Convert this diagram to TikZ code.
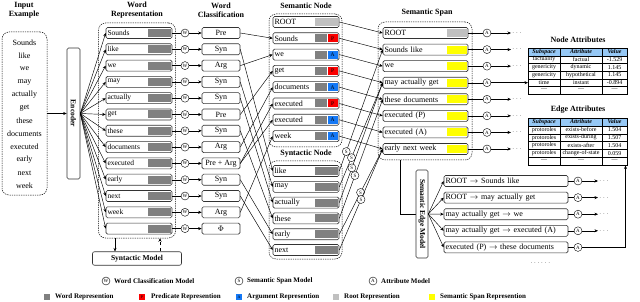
\documentclass[tikz,border=0pt]{standalone}
\usepackage{fontspec}
\setmainfont{Liberation Serif}
\usepackage{amsmath}
\usepackage{xcolor}
\usepackage{tikz}
\usetikzlibrary{positioning,arrows.meta,calc}

\definecolor{repgray}{RGB}{128,128,128}
\definecolor{rootgray}{RGB}{192,192,192}
\definecolor{predred}{RGB}{250,0,0}
\definecolor{argblue}{RGB}{20,120,245}
\definecolor{spanyellow}{RGB}{255,255,0}
\definecolor{headblue}{RGB}{150,200,245}

\begin{document}
\begin{tikzpicture}[x=1pt,y=-1pt,
  font=\fontsize{8}{9}\selectfont,
  arr/.style={-{Stealth[length=3.5pt,width=3pt]},line width=0.45pt},
  grp/.style={draw,dash pattern=on 1.3pt off 1pt,rounded corners=7pt,line width=0.5pt},
  ttl/.style={font=\fontsize{8}{9}\selectfont\bfseries,align=center},
  wordrow/.style={draw=black!80,line width=0.6pt,rounded corners=1.5pt,minimum height=11pt,inner sep=1.5pt,text width=#1,align=left},
  tagbox/.style={draw=black!80,line width=0.6pt,rounded corners=1.5pt,minimum height=11pt,minimum width=38pt,inner sep=1pt},
  repbox/.style={fill=repgray,minimum height=8pt,minimum width=#1,inner sep=0pt},
  mcirc/.style={circle,draw,fill=white,line width=0.4pt,inner sep=0pt,minimum size=8pt,font=\fontsize{5}{5}\selectfont},
  dots/.style={inner sep=1pt,font=\fontsize{6}{6}\selectfont},
  cell/.style={inner sep=0pt,font=\fontsize{6}{6}\selectfont},
  legtext/.style={anchor=west,inner sep=0pt,font=\fontsize{7}{8}\selectfont\bfseries}]
\useasboundingbox (0,0) rectangle (640,302);

% input example
\node[ttl] (intitle) at (24,10) {Input\\Example};
\node[grp,minimum width=45pt,minimum height=163pt] (ing) at (24.5,113.5) {};
\foreach \w [count=\i from 0] in {Sounds,like,we,may,actually,get,these,documents,executed,early,next,week}
  \node (in\i) at (24.5,{43+13*\i}) {\w};
\node[draw=black!80,line width=0.6pt,rounded corners=1.5pt,rotate=-90,minimum width=131pt,minimum height=13pt,inner sep=0pt,font=\fontsize{7.5}{8}\selectfont\bfseries] (enc) at (73.5,113.5) {Encoder};
\draw[arr] (ing.east) -- (enc.south);

% word representation + word classification
\node[ttl] (wrtitle) at (137,10) {Word\\Representation};
\node[ttl] (wctitle) at (221,10) {Word\\Classification};
\node[grp,minimum width=77pt,minimum height=215pt] (wrg) at (137,130.5) {};
\foreach \w/\c [count=\i from 0] in {Sounds/Pre,like/Syn,we/Arg,may/Syn,actually/Syn,get/Pre,these/Syn,documents/Arg,executed/Pre + Arg,early/Syn,next/Syn,week/Arg,{}/$\Phi$} {
  \node[wordrow=63pt,font=\fontsize{7.5}{8}\selectfont] (wr\i) at (139,{33+16.3*\i}) {\w};
  \node[repbox=23pt,anchor=east,xshift=-1.5pt] at (wr\i.east) {};
  \node[mcirc] (wm\i) at (185,{33+16.3*\i}) {W};
  \node[tagbox] (wc\i) at (221,{33+16.3*\i}) {\c};
  \draw[arr] (enc.north) -- (wr\i.west);
  \draw (wr\i.east) -- (wm\i);
  \draw[arr] (wm\i) -- (wc\i.west);
}
\node[draw=black!80,line width=0.6pt,rounded corners=2pt,minimum width=89pt,minimum height=13pt,font=\fontsize{7.5}{8}\selectfont\bfseries] (synm) at (137,258.5) {Syntactic Model};
\draw[arr] ([xshift=-22pt]wrg.south) -- ([xshift=-22pt]synm.north);
\draw[arr,dashed] ([xshift=23pt]synm.north) -- ([xshift=23pt]wrg.south);

% semantic node
\node[ttl] (sntitle) at (306,6) {Semantic Node};
\node[grp,minimum width=73pt,minimum height=133pt] (sng) at (305.5,80.5) {};
\node[wordrow=63pt] (sn0) at (306,22) {ROOT};
\node[repbox=23pt,fill=rootgray,anchor=east,xshift=-1.5pt] at (sn0.east) {};
\foreach \w/\t/\c [count=\i] in {Sounds/P/predred,we/A/argblue,get/P/predred,documents/A/argblue,executed/P/predred,executed/A/argblue,week/A/argblue} {
  \node[wordrow=63pt] (sn\i) at (306,{22+16.3*\i}) {\w};
  \node[repbox=10pt,fill=\c,anchor=east,xshift=-1.5pt,font=\fontsize{5.5}{5.5}\selectfont] (snt\i) at (sn\i.east) {\t};
  \node[repbox=12pt,anchor=east] at (snt\i.west) {};
}

% syntactic node
\node[ttl] (sytitle) at (306,154) {Syntactic Node};
\node[grp,minimum width=73pt,minimum height=98pt] (syg) at (305.5,210) {};
\foreach \w [count=\i] in {like,may,actually,these,early,next} {
  \node[wordrow=63pt] (sy\i) at (306,{171+15.8*(\i-1)}) {\w};
  \node[repbox=23pt,anchor=east,xshift=-1.5pt] at (sy\i.east) {};
}

% classification -> nodes
\foreach \a/\b in {0/1,2/2,5/3,7/4,8/5,8/6,11/7}
  \draw[arr] (wc\a.east) -- (sn\b.west);
\foreach \a/\b in {1/1,3/2,4/3,6/4,9/5,10/6}
  \draw[arr] (wc\a.east) -- (sy\b.west);

% semantic span
\node[ttl] (sptitle) at (427,13) {Semantic Span};
\node[grp,minimum width=94pt,minimum height=138pt] (spg) at (425,91) {};
\foreach \w [count=\i from 0] in {ROOT,Sounds like,we,may actually get,these documents,executed (P),executed (A),early next week} {
  \node[wordrow=82pt] (sp\i) at (425.5,{33+16.57*\i}) {\w};
  \node[repbox=20pt,fill=spanyellow,anchor=east,xshift=-1.5pt] (spy\i) at (sp\i.east) {};
  \node[mcirc] (spa\i) at (487,{33+16.57*\i}) {A};
  \draw (sp\i.east) -- (spa\i);
  \draw[arr] (sn\i.east) -- (sp\i.west);
}
\node[repbox=20pt,fill=rootgray,anchor=east,xshift=-1.5pt] at (sp0.east) {};
\foreach \i in {0,1,2,4,5,6,7} {
  \node[dots,anchor=west] (spd\i) at (511,{33+16.57*\i}) {$\cdots$};
  \draw[arr] (spa\i) -- (spd\i.west);
}
\draw[arr] (sy1.east) -- node[mcirc,pos=.16] {S} (sp1.west);
\draw[arr] (sy2.east) -- node[mcirc,pos=.28] {S} (sp3.west);
\draw[arr] (sy3.east) -- node[mcirc,pos=.29] {S} (sp3.west);
\draw[arr] (sy4.east) -- node[mcirc,pos=.36] {S} (sp4.west);
\draw[arr] (sy5.east) -- node[mcirc,pos=.49] {S} (sp7.west);
\draw[arr] (sy6.east) -- node[mcirc,pos=.5] {S} (sp7.west);

% node attributes
\node[ttl] (natitle) at (578,40) {Node Attributes};
\node[draw,line width=0.5pt,minimum width=99pt,minimum height=46pt,inner sep=0pt,anchor=north west] (natt) at (528,48) {};
\fill[headblue] (528,48) rectangle (627,55.67);
\draw[line width=0.5pt] (natt.north west) rectangle (natt.south east);
\foreach \r in {1,...,5} \draw[line width=0.3pt] (528,{48+7.67*\r}) -- (627,{48+7.67*\r});
\draw[line width=0.3pt] (560,48) -- (560,94) (602,48) -- (602,94);
\foreach \s/\a/\v [count=\r from 0] in {\textbf{\textit{Subspace}}/\textbf{\textit{Attribute}}/\textbf{\textit{Value}},factuality/factual/-1.529,genericity/dynamic/1.145,genericity/hypothetical/1.145,time/instant/-0.894,---/---/---} {
  \node[cell] at (544,{51.8+7.67*\r}) {\s};
  \node[cell] at (581,{51.8+7.67*\r}) {\a};
  \node[cell] at (614.5,{51.8+7.67*\r}) {\v};
}
\draw[arr] (spa3) -- (spa3 -| natt.west);

% semantic edge model
\draw[arr] ([xshift=-25pt]spg.south) |- (422,214) coordinate (semin);
\node[draw=black!80,fill=white,line width=0.6pt,rounded corners=1.5pt,rotate=-90,minimum width=88pt,minimum height=12pt,inner sep=0pt,font=\fontsize{7.5}{8}\selectfont\bfseries] (sem) at (422,214) {Semantic Edge Model};
\foreach \w [count=\i] in {ROOT $\to$ Sounds like,ROOT $\to$ may actually get,may actually get $\to$ we,may actually get $\to$ executed (A),executed (P) $\to$ these documents} {
  \node[wordrow=121pt] (eb\i) at (506,{181+16.6*(\i-1)}) {\w};
  \node[mcirc] (ea\i) at (578,{181+16.6*(\i-1)}) {A};
  \draw[arr] (sem.north) -- (eb\i.west);
  \draw (eb\i.east) -- (ea\i);
}
\foreach \i in {1,...,4} {
  \node[dots,anchor=west] (ed\i) at (598,{181+16.6*(\i-1)}) {$\cdots$};
  \draw[arr] (ea\i) -- (ed\i.west);
}
\node[dots] (edmore) at (541,263) {$\cdots\cdots$};

% edge attributes
\node[ttl] (eatitle) at (578,110) {Edge Attributes};
\node[draw,line width=0.5pt,minimum width=99pt,minimum height=47pt,inner sep=0pt,anchor=north west] (eatt) at (528,118) {};
\fill[headblue] (528,118) rectangle (627,125.83);
\draw[line width=0.5pt] (eatt.north west) rectangle (eatt.south east);
\foreach \r in {1,...,5} \draw[line width=0.3pt] (528,{118+7.83*\r}) -- (627,{118+7.83*\r});
\draw[line width=0.3pt] (560,118) -- (560,165) (602,118) -- (602,165);
\foreach \s/\a/\v [count=\r from 0] in {\textbf{\textit{Subspace}}/\textbf{\textit{Attribute}}/\textbf{\textit{Value}},protoroles/exists-before/1.504,protoroles/exists-during/1.507,protoroles/exists-after/1.504,protoroles/change-of-state/0.059,---/---/---} {
  \node[cell] at (544,{121.9+7.83*\r}) {\s};
  \node[cell] at (581,{121.9+7.83*\r}) {\a};
  \node[cell] at (614.5,{121.9+7.83*\r}) {\v};
}
\coordinate (eain) at ([xshift=-2pt]eatt.south east);
\draw[arr] (ea5) -| (eain);

% legend
\node[mcirc] (lgw) at (106,281) {W};
\node[legtext] (lgwt) at (114,281) {Word Classification Model};
\node[mcirc] (lgs) at (239,281) {S};
\node[legtext] (lgst) at (247,281) {Semantic Span Model};
\node[mcirc] (lga) at (373,281) {A};
\node[legtext] (lgat) at (381,281) {Attribute Model};
\node[repbox=6pt,minimum height=6pt] (lg1) at (47,297) {};
\node[legtext] at (55,297) {Word Represention};
\node[repbox=6pt,minimum height=6pt,fill=predred,font=\fontsize{4}{4}\selectfont] (lg2) at (142,297) {P};
\node[legtext] at (151,297) {Predicate Represention};
\node[repbox=6pt,minimum height=6pt,fill=argblue,font=\fontsize{4}{4}\selectfont] (lg3) at (239,297) {A};
\node[legtext] at (247,297) {Argument Represention};
\node[repbox=6pt,minimum height=6pt,fill=rootgray] (lg4) at (336,297) {};
\node[legtext] at (344,297) {Root Represention};
\node[repbox=6pt,minimum height=6pt,fill=spanyellow] (lg5) at (432,297) {};
\node[legtext] at (440,297) {Semantic Span Represention};
\end{tikzpicture}
\end{document}
